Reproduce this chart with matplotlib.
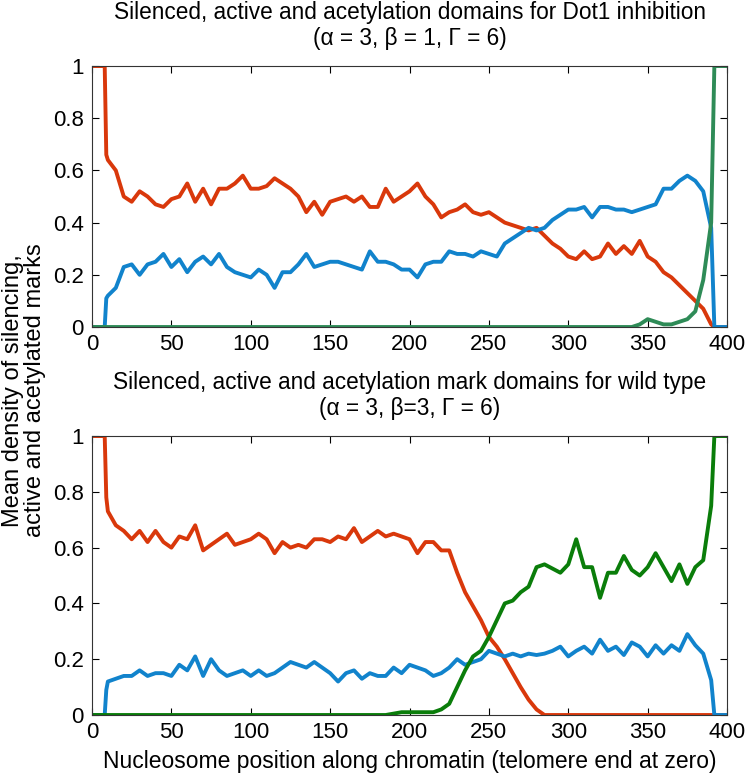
import numpy as np
import matplotlib
matplotlib.use("Agg")
import matplotlib.pyplot as plt

plt.rcParams["font.family"] = ["Liberation Sans", "DejaVu Sans"]

# positions des nucleosomes (grille de lecture)
positions = [0, 5, 8, 9, 10, 15, 20, 25, 30, 35, 40, 45, 50, 55, 60, 65, 70, 75, 80,
             85, 90, 95, 100, 105, 110, 115, 120, 125, 130, 135, 140, 145, 150, 155,
             160, 165, 170, 175, 180, 185, 190, 195, 200, 205, 210, 215, 220, 225,
             230, 235, 240, 245, 250, 255, 260, 265, 270, 275, 280, 285, 290, 295,
             300, 305, 310, 315, 320, 325, 330, 335, 340, 345, 350, 355, 360, 365,
             370, 375, 380, 385, 390, 392, 395, 400]

# --- Dot1 inhibition (alpha=3, beta=1, Gamma=6) ---
silence_dot1 = [1.0, 1.0, 1.0, 0.66, 0.64,
                0.60, 0.50, 0.48, 0.52, 0.50, 0.47, 0.46, 0.49, 0.50, 0.55,
                0.48, 0.53, 0.47, 0.53, 0.53, 0.55, 0.58, 0.53, 0.53, 0.54,
                0.57, 0.55, 0.53, 0.50, 0.44, 0.48, 0.43, 0.48, 0.49, 0.50,
                0.48, 0.50, 0.46, 0.46, 0.53, 0.48, 0.50, 0.52, 0.55, 0.50,
                0.47, 0.42, 0.44, 0.45, 0.47, 0.44, 0.43, 0.44, 0.42, 0.40,
                0.39, 0.38, 0.37, 0.38, 0.35, 0.32, 0.30, 0.27, 0.26, 0.29,
                0.26, 0.27, 0.32, 0.28, 0.31, 0.28, 0.33, 0.27, 0.25, 0.21,
                0.19, 0.16, 0.13, 0.10, 0.07, 0.01, 0.0, 0.0, 0.0]
actif_dot1 = [0.0, 0.0, 0.0, 0.11, 0.12,
              0.15, 0.23, 0.24, 0.20, 0.24, 0.25, 0.28, 0.23, 0.26, 0.21,
              0.25, 0.27, 0.24, 0.28, 0.23, 0.21, 0.20, 0.19, 0.22, 0.20,
              0.15, 0.21, 0.21, 0.24, 0.28, 0.23, 0.24, 0.25, 0.25, 0.24,
              0.23, 0.22, 0.29, 0.25, 0.25, 0.24, 0.22, 0.22, 0.19, 0.24,
              0.25, 0.25, 0.29, 0.28, 0.28, 0.27, 0.29, 0.28, 0.27, 0.32,
              0.34, 0.36, 0.38, 0.37, 0.38, 0.41, 0.43, 0.45, 0.45, 0.46,
              0.42, 0.46, 0.46, 0.45, 0.45, 0.44, 0.45, 0.46, 0.47, 0.53,
              0.53, 0.56, 0.58, 0.56, 0.52, 0.38, 0.0, 0.0, 0.0]
acetyl_dot1 = [0.0] * 70 + [0.0, 0.01, 0.03, 0.02, 0.01, 0.01, 0.02, 0.03,
                            0.06, 0.18, 0.40, 1.0, 1.0, 1.0]

# --- type sauvage (alpha=3, beta=3, Gamma=6) ---
silence_wt = [1.0, 1.0, 1.0, 0.78, 0.73,
              0.68, 0.66, 0.63, 0.66, 0.62, 0.66, 0.62, 0.60, 0.64, 0.63,
              0.68, 0.59, 0.61, 0.63, 0.65, 0.61, 0.62, 0.63, 0.65, 0.63,
              0.58, 0.62, 0.60, 0.61, 0.60, 0.63, 0.63, 0.62, 0.64, 0.63,
              0.67, 0.62, 0.64, 0.66, 0.64, 0.65, 0.64, 0.63, 0.58, 0.62,
              0.62, 0.59, 0.59, 0.51, 0.44, 0.39, 0.34, 0.28, 0.245, 0.20,
              0.15, 0.10, 0.055, 0.02, 0.0] + [0.0] * 24
actif_wt = [0.0, 0.0, 0.0, 0.09, 0.12,
            0.13, 0.14, 0.14, 0.16, 0.14, 0.15, 0.15, 0.14, 0.18, 0.16,
            0.21, 0.14, 0.20, 0.16, 0.14, 0.15, 0.16, 0.14, 0.16, 0.14,
            0.15, 0.17, 0.19, 0.18, 0.17, 0.19, 0.17, 0.15, 0.12, 0.15,
            0.16, 0.13, 0.15, 0.14, 0.14, 0.17, 0.15, 0.18, 0.17, 0.16,
            0.14, 0.15, 0.17, 0.20, 0.18, 0.19, 0.20, 0.23, 0.22, 0.21,
            0.22, 0.21, 0.22, 0.215, 0.22, 0.23, 0.245, 0.21, 0.23, 0.245,
            0.22, 0.27, 0.23, 0.245, 0.215, 0.26, 0.245, 0.21, 0.25, 0.22,
            0.25, 0.23, 0.29, 0.25, 0.22, 0.125, 0.0, 0.0, 0.0]
acetyl_wt = [0.0] * 40 + [0.005, 0.01, 0.01, 0.01, 0.01, 0.01, 0.02, 0.04,
                          0.10, 0.16, 0.21, 0.23, 0.28, 0.34, 0.40, 0.41,
                          0.44, 0.46, 0.53, 0.54, 0.525, 0.51, 0.54, 0.63,
                          0.53, 0.53, 0.42, 0.51, 0.51, 0.57, 0.52, 0.50,
                          0.53, 0.58, 0.53, 0.48, 0.54, 0.47, 0.53, 0.555,
                          0.75, 1.0, 1.0, 1.0]

yticks = [0, 0.2, 0.4, 0.6, 0.8, 1]
ytick_labels = ["0", "0.2", "0.4", "0.6", "0.8", "1"]
xticks = [0, 50, 100, 150, 200, 250, 300, 350, 400]

rouge = "#d9380b"
bleu = "#1183cc"

fig = plt.figure(figsize=(7.48, 7.76), dpi=100)
ax_haut = fig.add_axes([0.123, 0.5786, 0.849, 0.3363])
ax_bas = fig.add_axes([0.123, 0.0786, 0.849, 0.3595])


def tracer(ax, silence, actif, acetyl, vert, titre):
    ax.plot(positions, silence, color=rouge, lw=2.8)
    ax.plot(positions, actif, color=bleu, lw=2.8)
    ax.plot(positions, acetyl, color=vert, lw=2.8)
    ax.set_xlim(0, 400)
    ax.set_ylim(0, 1)
    ax.set_xticks(xticks)
    ax.set_yticks(yticks)
    ax.set_yticklabels(ytick_labels)
    ax.tick_params(direction="in", top=True, right=True, length=5,
                   labelsize=16, width=0.8)
    ax.tick_params(axis="x", pad=5)
    ax.tick_params(axis="y", pad=6)
    for s in ax.spines.values():
        s.set_linewidth(0.8)
        s.set_color("#333333")
    ax.set_title(titre, fontsize=16.3, pad=15, linespacing=1.2)


tracer(ax_haut, silence_dot1, actif_dot1, acetyl_dot1, "#2e8b57",
       "Silenced, active and acetylation domains for Dot1 inhibition\n"
       "(\u03b1 = 3, \u03b2 = 1, \u0393 = 6)")
tracer(ax_bas, silence_wt, actif_wt, acetyl_wt, "#0a7d0a",
       "Silenced, active and acetylation mark domains for wild type\n"
       "(\u03b1 = 3, \u03b2=3, \u0393 = 6)")

ax_bas.set_xlabel("Nucleosome position along chromatin (telomere end at zero)",
                  fontsize=16.5, labelpad=5)
fig.text(0.032, 0.497, "Mean density of silencing,\nactive and acetylated marks",
         rotation=90, ha="center", va="center", fontsize=17, linespacing=1.05)

plt.savefig("out.png", dpi=100)
